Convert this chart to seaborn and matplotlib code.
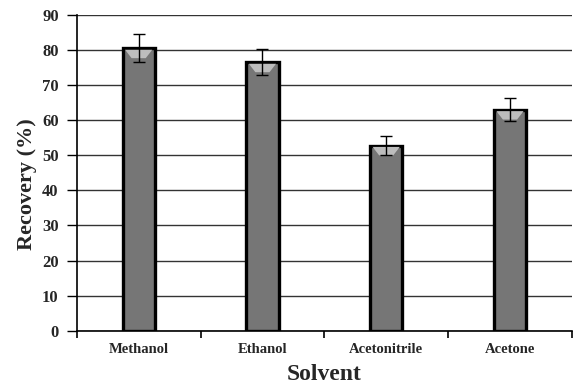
import matplotlib
matplotlib.use("Agg")
import matplotlib.pyplot as plt
import seaborn as sns
import pandas as pd
import numpy as np

solvents = ["Methanol", "Ethanol", "Acetonitrile", "Acetone"]
recovery = [80.5, 76.5, 52.8, 63.0]
recovery_sd = [4.0, 3.7, 2.6, 3.3]
y_ticks = [0, 10, 20, 30, 40, 50, 60, 70, 80, 90]

df = pd.DataFrame({"Solvent": solvents, "Recovery": recovery})

sns.set_theme(style="white")
plt.rcParams["font.family"] = ["Liberation Serif", "DejaVu Serif"]

fig = plt.figure(figsize=(5.73, 3.85), dpi=100)
ax = fig.add_axes([0.134, 0.141, 0.864, 0.82])

sns.barplot(data=df, x="Solvent", y="Recovery", color="#767676", width=0.26,
            errorbar=None, edgecolor="black", linewidth=2.4, saturation=1,
            zorder=3, ax=ax)

# bevel highlight near the top of each bar
for patch in ax.patches:
    x0 = patch.get_x()
    w = patch.get_width()
    h = patch.get_height()
    ax.fill([x0 + 0.02, x0 + w - 0.02, x0 + w * 0.72, x0 + w * 0.28],
            [h - 0.4, h - 0.4, h - 2.8, h - 2.8],
            color="#bdbdbd", zorder=3.5, lw=0)

ax.errorbar(range(len(solvents)), recovery, yerr=recovery_sd, fmt="none",
            ecolor="black", elinewidth=1.0, capsize=4, capthick=1.0, zorder=5)

ax.set_ylim(0, 90)
ax.set_xlim(-0.5, len(solvents) - 0.5)
ax.set_yticks(y_ticks)
ax.set_yticklabels([str(t) for t in y_ticks], fontsize=12, fontweight="bold")
ax.set_xticks(range(len(solvents)))
ax.set_xticklabels(solvents, fontsize=10.5, fontweight="bold")
ax.tick_params(axis="x", which="major", length=0, pad=9)
ax.set_xticks(np.arange(-0.5, len(solvents), 1.0), minor=True)
ax.tick_params(axis="x", which="minor", length=5, width=1.2, color="black", direction="out", bottom=True)
ax.tick_params(axis="y", length=7, width=1.0, color="black", direction="out", left=True, pad=6)

ax.yaxis.grid(True, color="#333333", linewidth=1.0, zorder=0)
ax.set_axisbelow(True)
for side in ["top", "right"]:
    ax.spines[side].set_visible(False)
for side in ["left", "bottom"]:
    ax.spines[side].set_color("black")
    ax.spines[side].set_linewidth(1.2)

ax.set_xlabel("Solvent", fontsize=17, fontweight="bold")
ax.xaxis.set_label_coords(0.5, -0.105)
ax.set_ylabel("Recovery (%)", fontsize=16, fontweight="bold")
ax.yaxis.set_label_coords(-0.081, 0.465)

fig.savefig("out.png", dpi=100)
